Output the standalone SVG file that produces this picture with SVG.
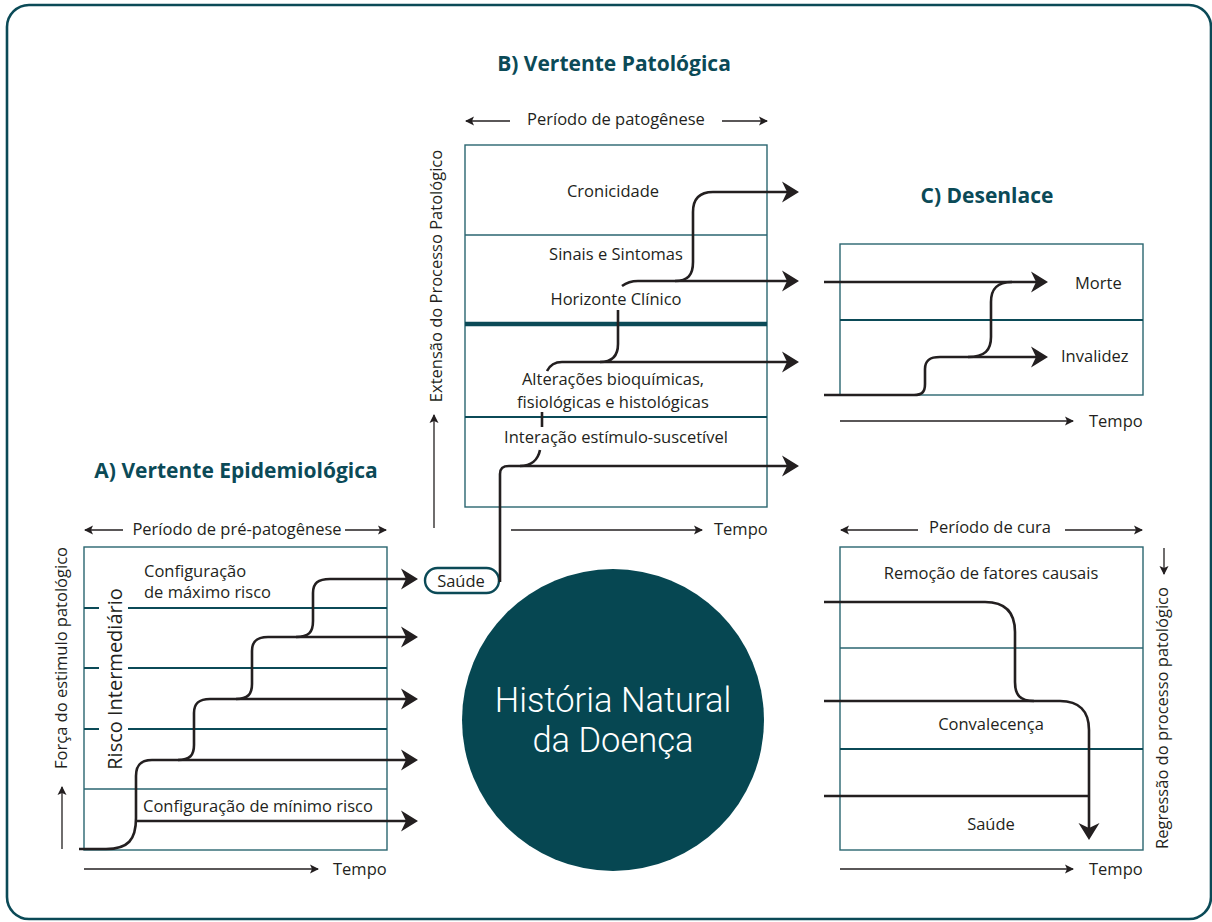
<svg xmlns="http://www.w3.org/2000/svg" width="1212" height="922" viewBox="0 0 1212 922">
<style>
.lbl{font-family:"Open Sans","Noto Sans",sans-serif;font-size:16.5px;fill:#231f20}
.mid{text-anchor:middle}
.ttl{font-family:"Open Sans","Noto Sans",sans-serif;font-weight:700;font-size:21px;fill:#0b4a57;text-anchor:middle}
.box{fill:none;stroke:#2a6570;stroke-width:1.4}
.sep{stroke:#0b4a57;stroke-width:2}
.sep1{stroke:#2a6570;stroke-width:1.3}
.flow{fill:none;stroke:#231f20;stroke-width:2.6;stroke-linecap:butt;stroke-linejoin:round}
.axis{fill:none;stroke:#231f20;stroke-width:1.3}
.big{font-family:Roboto,"Open Sans",sans-serif;font-weight:300;font-size:34.5px;fill:#ffffff;text-anchor:middle}
</style>
<defs>
<marker id="ah" markerUnits="userSpaceOnUse" markerWidth="24" markerHeight="24" viewBox="-16 -12 24 24" refX="0" refY="0" orient="auto">
<path d="M-13,-10.5 L4,0 L-13,10.5 L-8,0 Z" fill="#231f20"/>
</marker>
<marker id="sa" markerUnits="userSpaceOnUse" markerWidth="14" markerHeight="12" viewBox="-10 -6 14 12" refX="0" refY="0" orient="auto">
<path d="M-8,-4.5 L1,0 L-8,4.5 L-6,0 Z" fill="#231f20"/>
</marker>
</defs>
<rect x="0" y="0" width="1212" height="922" fill="#ffffff"/>
<rect x="7" y="5" width="1204" height="914" rx="22" fill="none" stroke="#0b4a57" stroke-width="2.6"/>

<!-- Titles -->
<text class="ttl" x="614" y="71">B) Vertente Patológica</text>
<text class="ttl" x="987" y="203">C) Desenlace</text>
<text class="ttl" x="236" y="478">A) Vertente Epidemiológica</text>

<!-- Section B -->
<g id="vertente-patologica">
<rect class="box" x="465" y="145" width="302" height="362"/>
<line class="sep1" x1="465" y1="235" x2="767" y2="235"/>
<line x1="465" y1="324" x2="767" y2="324" stroke="#0b4a57" stroke-width="4.5"/>
<line class="sep" x1="465" y1="417" x2="767" y2="417"/>
<text class="lbl mid" x="613" y="197">Cronicidade</text>
<text class="lbl mid" x="616" y="260">Sinais e Sintomas</text>
<text class="lbl mid" x="616" y="305">Horizonte Clínico</text>
<text class="lbl mid" x="613" y="385">Alterações bioquímicas,</text>
<text class="lbl mid" x="613" y="407.5">fisiológicas e histológicas</text>
<text class="lbl mid" x="616" y="443">Interação estímulo-suscetível</text>
<text class="lbl mid" x="616" y="125">Período de patogênese</text>
<text class="lbl" x="714" y="535">Tempo</text>
<text class="lbl mid" transform="translate(442,276) rotate(-90)">Extensão do Processo Patológico</text>
</g>

<!-- Section C -->
<g id="desenlace">
<rect class="box" x="840" y="244" width="303" height="151"/>
<line class="sep" x1="840" y1="320" x2="1143" y2="320"/>
<text class="lbl" x="1075" y="289">Morte</text>
<text class="lbl" x="1061" y="362">Invalidez</text>
<text class="lbl" x="1089" y="427">Tempo</text>
</g>

<!-- Section A -->
<g id="vertente-epidemiologica">
<rect class="box" x="84" y="547" width="303" height="303"/>
<line class="sep" x1="84" y1="608" x2="99" y2="608"/>
<line class="sep" x1="128" y1="608" x2="387" y2="608"/>
<line class="sep" x1="84" y1="668" x2="99" y2="668"/>
<line class="sep" x1="128" y1="668" x2="387" y2="668"/>
<line class="sep" x1="84" y1="729" x2="99" y2="729"/>
<line class="sep" x1="128" y1="729" x2="387" y2="729"/>
<line class="sep1" x1="84" y1="789" x2="387" y2="789"/>
<text class="lbl" x="144" y="577">Configuração</text>
<text class="lbl" x="144" y="598">de máximo risco</text>
<text class="lbl" x="143" y="812">Configuração de mínimo risco</text>
<text class="lbl mid" style="font-size:20px" transform="translate(122,679) rotate(-90)">Risco Intermediário</text>
<text class="lbl mid" x="237" y="535">Período de pré-patogênese</text>
<text class="lbl" x="333" y="875">Tempo</text>
<text class="lbl mid" transform="translate(67,658) rotate(-90)">Força do estimulo patológico</text>
</g>

<!-- Section cure -->
<g id="periodo-de-cura">
<rect class="box" x="840" y="547" width="303" height="303"/>
<line class="sep1" x1="840" y1="648" x2="1143" y2="648"/>
<line class="sep" x1="840" y1="749" x2="1143" y2="749"/>
<text class="lbl mid" x="991" y="579">Remoção de fatores causais</text>
<text class="lbl mid" x="991" y="730">Convalecença</text>
<text class="lbl mid" x="991" y="830">Saúde</text>
<text class="lbl mid" x="990" y="533">Período de cura</text>
<text class="lbl" x="1089" y="875">Tempo</text>
<text class="lbl mid" transform="translate(1168,718) rotate(-90)">Regressão do processo patológico</text>
</g>

<!-- Central circle -->
<g id="historia-natural">
<circle cx="613" cy="720" r="151" fill="#064752"/>
<text class="big" x="613" y="712">História Natural</text>
<text class="big" x="613" y="752">da Doença</text>
</g>

<!-- Saúde pill -->
<g id="saude">
<rect x="425" y="568" width="74" height="25" rx="12.5" fill="#ffffff" stroke="#0b4a57" stroke-width="2.4"/>
<text class="lbl mid" x="461" y="587">Saúde</text>
</g>

<!-- Connectors -->
<g id="connectors">
<path class="axis" d="M510,121 H466" marker-end="url(#sa)"/>
<path class="axis" d="M722,121 H767" marker-end="url(#sa)"/>
<path class="axis" d="M434,528 V415" marker-end="url(#sa)"/>
<path class="axis" d="M511,530 H702" marker-end="url(#sa)"/>
<path class="axis" d="M123,530 H85" marker-end="url(#sa)"/>
<path class="axis" d="M345,530 H386" marker-end="url(#sa)"/>
<path class="axis" d="M62,849 V787" marker-end="url(#sa)"/>
<path class="axis" d="M84,869 H318" marker-end="url(#sa)"/>
<path class="axis" d="M840,421 H1073" marker-end="url(#sa)"/>
<path class="axis" d="M918,530 H841" marker-end="url(#sa)"/>
<path class="axis" d="M1065,530 H1142" marker-end="url(#sa)"/>
<path class="axis" d="M840,869 H1073" marker-end="url(#sa)"/>
<path class="axis" d="M1164,548 V574" marker-end="url(#sa)"/>

<path class="flow" d="M79,849 H106 C128,849 136,840 136,818 V776 C136,765 141,760 152,760 H414" marker-end="url(#ah)"/>
<path class="flow" d="M136,821 H414" marker-end="url(#ah)"/>
<path class="flow" d="M178,760 C190,760 194,755 194,745 V713 C194,703 199,699 210,699 H414" marker-end="url(#ah)"/>
<path class="flow" d="M236,699 C248,699 252,694 252,684 V651 C252,641 257,637 268,637 H414" marker-end="url(#ah)"/>
<path class="flow" d="M296,637 C309,637 313,632 313,621 V593 C313,583 318,579 330,579 H414" marker-end="url(#ah)"/>

<path class="flow" d="M500,582 V474 C500,468 503,466 509,466 H795" marker-end="url(#ah)"/>
<path class="flow" d="M520,466 C531,466 538,460 540,450"/>
<path class="flow" d="M542,412 V427"/>
<path class="flow" d="M547,371 C550,365 554,362 562,362 H795" marker-end="url(#ah)"/>
<path class="flow" d="M600,362 C612,362 618,356 618,344 V310"/>
<path class="flow" d="M622,286 C626,283 630,281 638,281 H795" marker-end="url(#ah)"/>
<path class="flow" d="M675,281 C688,281 693,275 693,262 V212 C693,198 700,192 713,192 H795" marker-end="url(#ah)"/>

<path class="flow" d="M824,282 H1044" marker-end="url(#ah)"/>
<path class="flow" d="M824,395 H914 C922,395 925,392 925,384 V369 C925,360 930,357 940,357 H1044" marker-end="url(#ah)"/>
<path class="flow" d="M968,357 C985,357 991,350 991,337 V302 C991,289 997,282 1012,282"/>

<path class="flow" d="M824,602 H985 C1005,602 1015,612 1015,632 V682 C1015,695 1020,701 1034,701"/>
<path class="flow" d="M824,701 H1060 C1079,701 1089,711 1089,730 V836" marker-end="url(#ah)"/>
<path class="flow" d="M824,796 H1089"/>
</g>
</svg>
